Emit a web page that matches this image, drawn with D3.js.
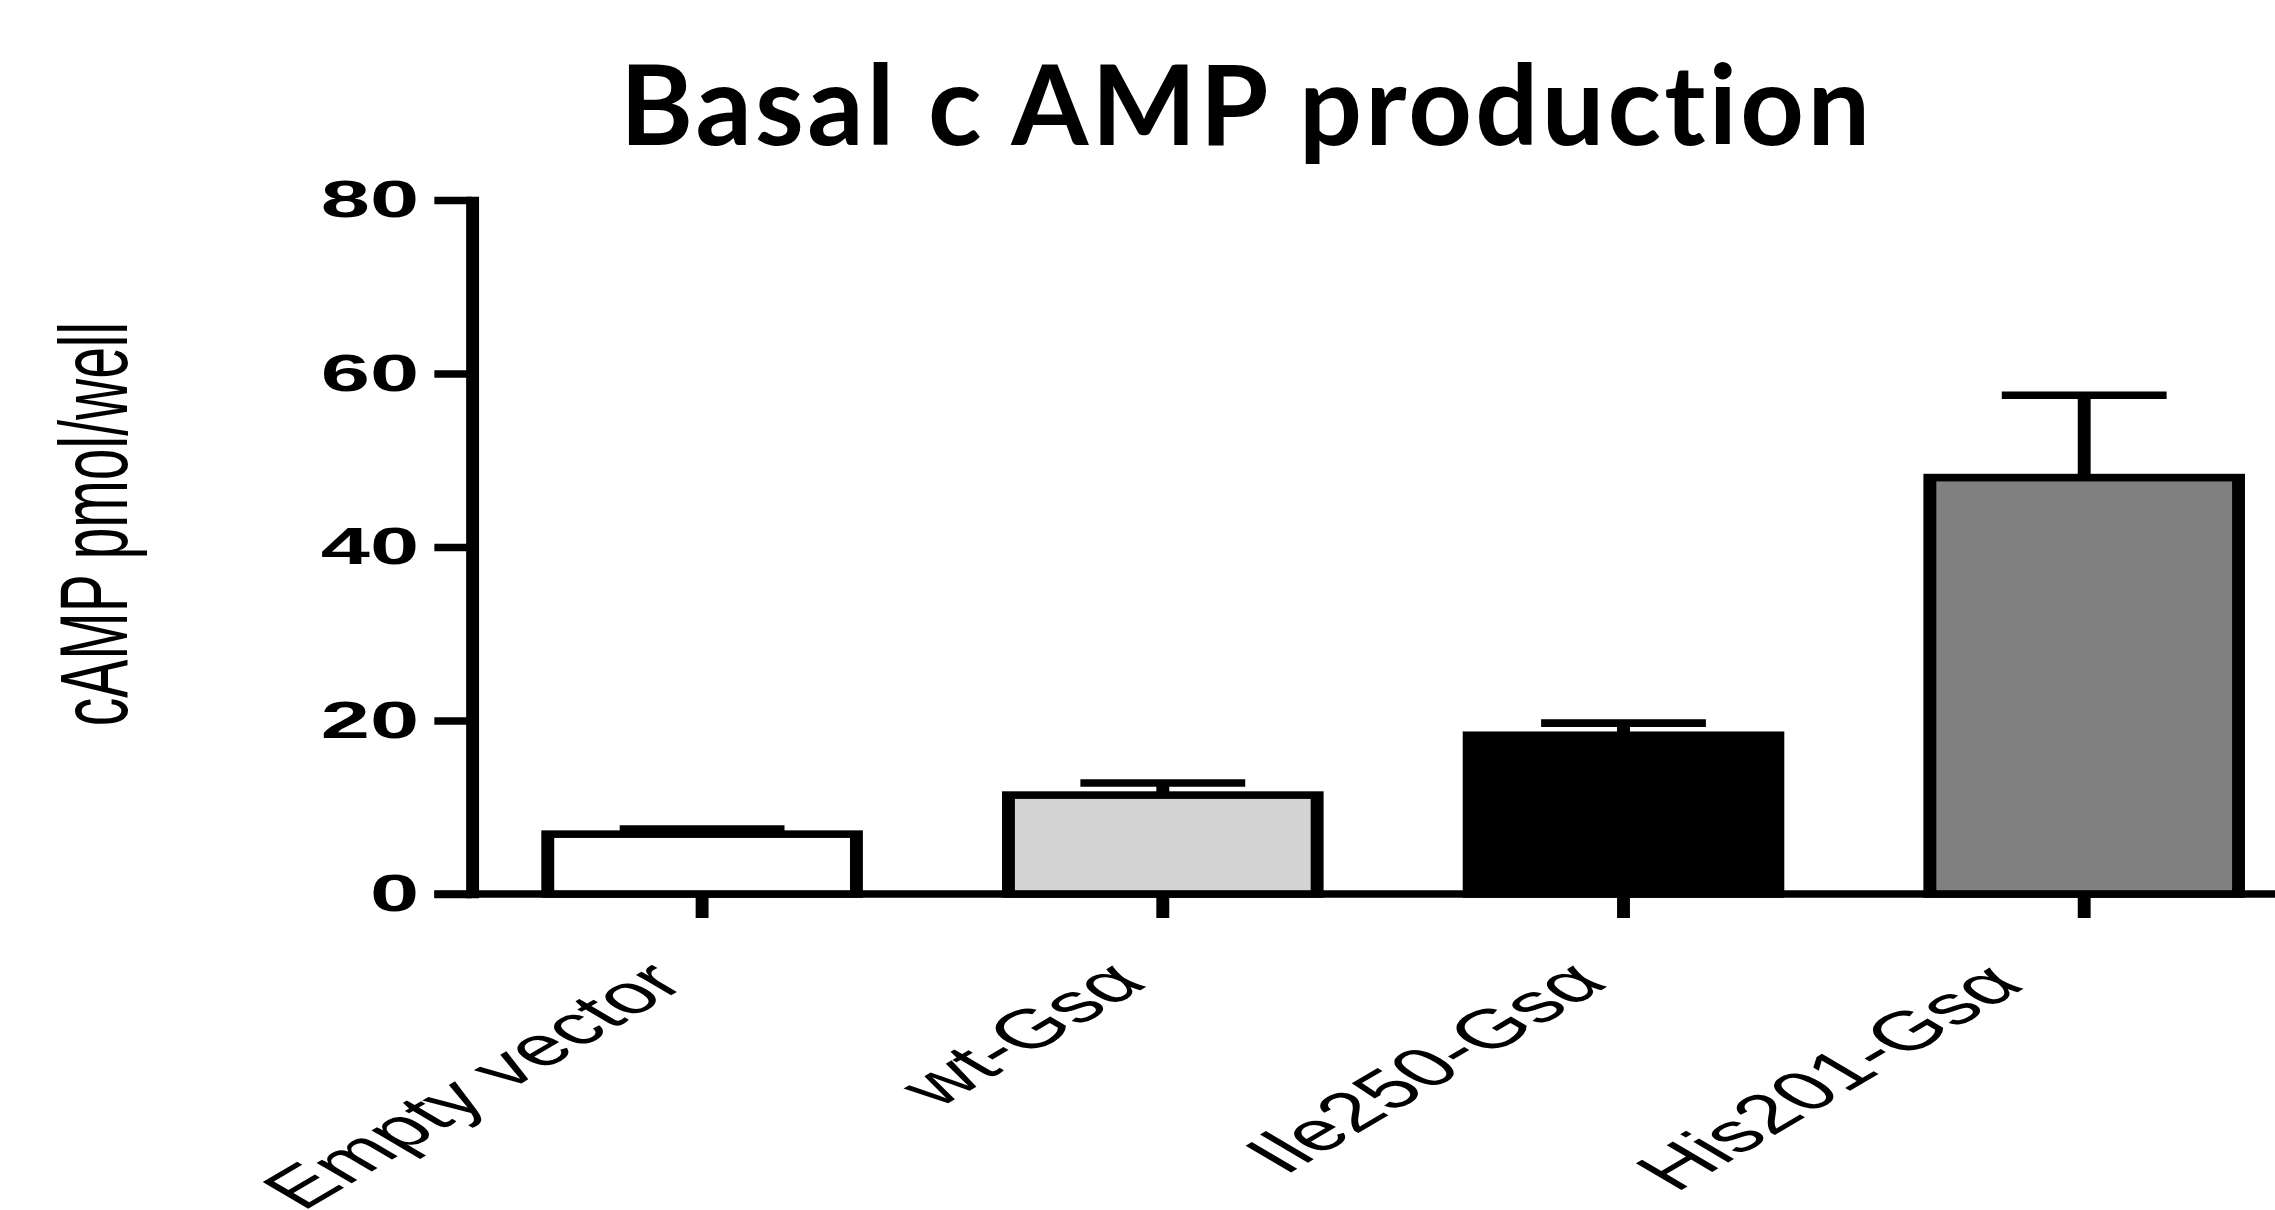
<!DOCTYPE html>
<html>
<head>
<meta charset="utf-8">
<script src="https://cdn.jsdelivr.net/npm/d3@7/dist/d3.min.js"></script>
<style>
  html, body { margin: 0; padding: 0; background: #fff; }
  svg { display: block; }
</style>
</head>
<body>
<svg id="chart" width="2275" height="1210"></svg>
<script>
// Basal cAMP production per construct (mean + error, pmol/well)
const categories = ["Empty vector", "wt-Gs\u03b1", "Ile250-Gs\u03b1", "His201-Gs\u03b1"];
const meanValues = [6.9, 11.4, 18.3, 48.0];
const errorValues = [0.6, 1.4, 1.4, 9.5];
const barFills = ["#ffffff", "#d3d3d3", "#000000", "#808080"];
const yTickValues = [0, 20, 40, 60, 80];
const chartTitle = "Basal c AMP production";
const yAxisTitle = "cAMP pmol/well";

const W = 2275, H = 1210;
const STRETCH = 1.7;          // the plot body is drawn wide: x is stretched by this factor
const LINE = 7.6;             // stroke weight for axes, outlines, error bars
const TICK = 22;

const svg = d3.select("#chart");
svg.append("rect").attr("width", W).attr("height", H).attr("fill", "#fff");

// Chart title
svg.append("text")
  .attr("x", 1245).attr("y", 145)
  .attr("text-anchor", "middle")
  .attr("textLength", 1250)
  .attr("lengthAdjust", "spacing")
  .style("font-family", "Lato, 'Open Sans', sans-serif")
  .style("font-weight", "bold")
  .style("font-size", "111px")
  .style("font-variant-ligatures", "none")
  .style("font-feature-settings", "'liga' 0, 'clig' 0")
  .attr("fill", "#000")
  .text(chartTitle);

// Plot body in a horizontally stretched frame
const g = svg.append("g").attr("transform", `scale(${STRETCH},1)`);

const x = d3.scaleBand()
  .domain(categories)
  .range([277.5, 1361.5])
  .paddingInner(0.33)
  .paddingOuter(0.165);

const y = d3.scaleLinear().domain([0, 80]).range([894, 200]);

const font = "'Liberation Sans', Arial, Helvetica, sans-serif";

// Y axis
const yAxis = g.append("g")
  .attr("transform", `translate(${x.range()[0]},0)`)
  .call(d3.axisLeft(y).tickValues(yTickValues).tickSize(TICK).tickSizeOuter(0).tickPadding(9));
yAxis.select(".domain").attr("stroke", "#000").attr("stroke-width", LINE).attr("stroke-linecap", "square");
yAxis.selectAll(".tick line").attr("stroke", "#000").attr("stroke-width", LINE);
yAxis.selectAll(".tick text")
  .attr("fill", "#000")
  .style("font-family", font)
  .style("font-weight", "bold")
  .style("font-size", "52px");

// X axis: baseline line plus downward ticks
const xAxis = g.append("g")
  .attr("transform", `translate(0,${y(0)})`)
  .call(d3.axisBottom(x).tickSize(TICK + 2).tickSizeOuter(0).tickFormat(""));
xAxis.select(".domain").remove();
xAxis.selectAll(".tick line").attr("stroke", "#000").attr("stroke-width", LINE);
g.append("line")
  .attr("x1", x.range()[0] - TICK).attr("x2", x.range()[1])
  .attr("y1", y(0)).attr("y2", y(0))
  .attr("stroke", "#000").attr("stroke-width", LINE);

// Category labels, rotated; the last one sits a little further out
const labelShift = d => d === categories[categories.length - 1] ? [-26, 2] : [0, 0];
g.selectAll("text.cat")
  .data(categories)
  .join("text")
  .attr("class", "cat")
  .attr("transform", d => {
    const [dx, dy] = labelShift(d);
    return `translate(${x(d) + x.bandwidth() / 2 - 8 + dx},${985 + dy}) rotate(-45)`;
  })
  .attr("text-anchor", "end")
  .style("font-family", font)
  .style("font-size", "55px")
  .attr("fill", "#000")
  .text(d => d);

// Y axis title
g.append("text")
  .attr("transform", "translate(74.7,524) rotate(-90)")
  .attr("text-anchor", "middle")
  .style("font-family", font)
  .style("font-size", "57px")
  .attr("fill", "#000")
  .text(yAxisTitle);

const rows = categories.map((c, i) => ({ c, v: meanValues[i], e: errorValues[i], fill: barFills[i] }));

// Error bars (mean + error, upward)
const capHalf = x.bandwidth() * 0.267;
const eb = g.selectAll("g.err").data(rows).join("g").attr("class", "err");
eb.append("line")
  .attr("x1", d => x(d.c) + x.bandwidth() / 2)
  .attr("x2", d => x(d.c) + x.bandwidth() / 2)
  .attr("y1", d => y(d.v))
  .attr("y2", d => y(d.v + d.e))
  .attr("stroke", "#000").attr("stroke-width", LINE);
eb.append("line")
  .attr("x1", d => x(d.c) + x.bandwidth() / 2 - capHalf)
  .attr("x2", d => x(d.c) + x.bandwidth() / 2 + capHalf)
  .attr("y1", d => y(d.v + d.e))
  .attr("y2", d => y(d.v + d.e))
  .attr("stroke", "#000").attr("stroke-width", LINE);

// Bars
g.selectAll("rect.bar")
  .data(rows)
  .join("rect")
  .attr("class", "bar")
  .attr("x", d => x(d.c))
  .attr("width", x.bandwidth())
  .attr("y", d => y(d.v))
  .attr("height", d => y(0) - y(d.v))
  .attr("fill", d => d.fill)
  .attr("stroke", "#000")
  .attr("stroke-width", LINE);
</script>
</body>
</html>
